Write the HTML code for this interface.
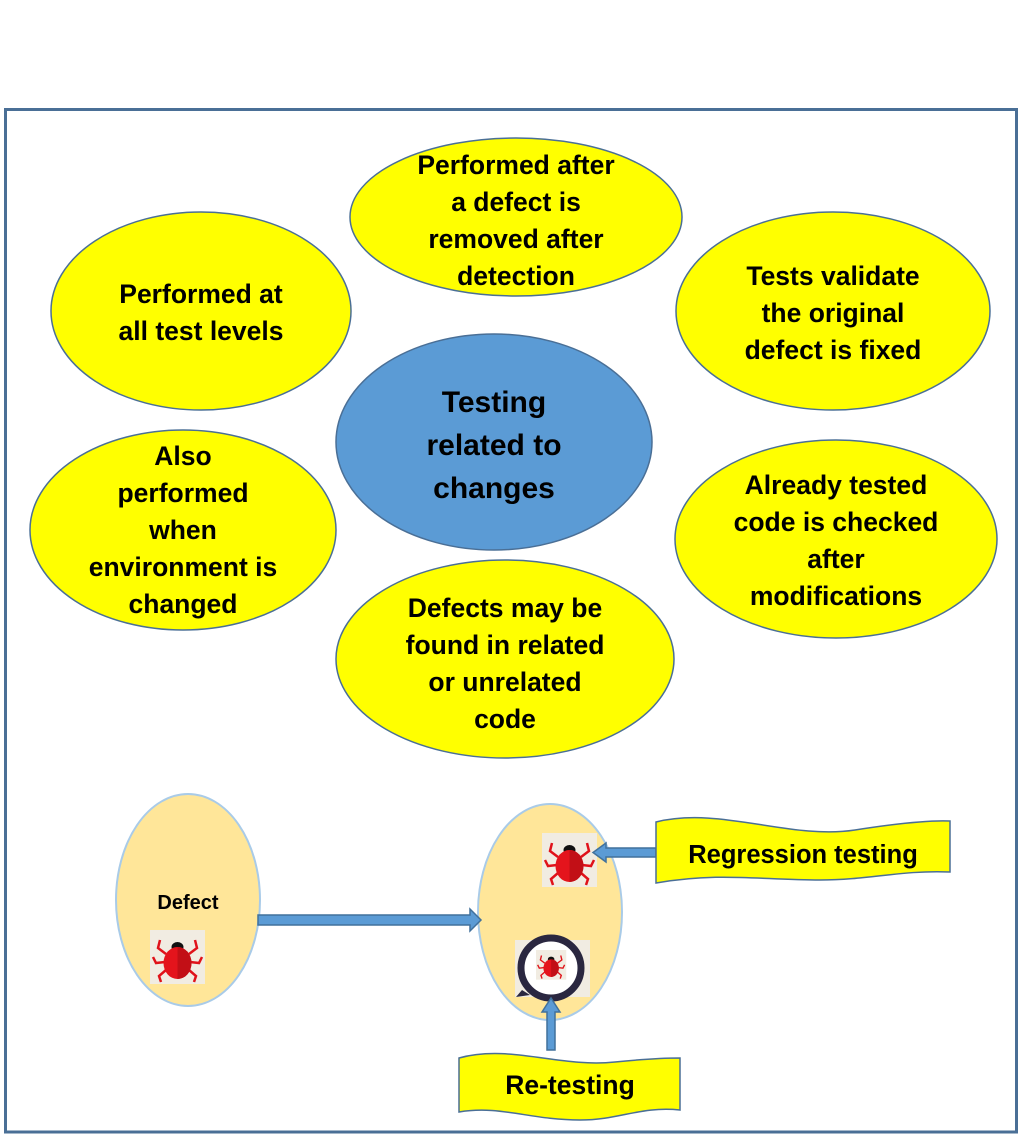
<!DOCTYPE html>
<html><head><meta charset="utf-8"><style>
html,body{margin:0;padding:0;background:#fff;}
svg{display:block;}
text{font-family:"Liberation Sans",sans-serif;font-weight:bold;fill:#000;text-anchor:middle;}
</style></head><body>
<svg width="1025" height="1139" viewBox="0 0 1025 1139" xmlns="http://www.w3.org/2000/svg">
<defs>
<g id="bug">
<rect x="0" y="0" width="55" height="54" fill="#f1ece2"/>
<g stroke="#e0121a" stroke-width="2.5" fill="none">
<path d="M16 24 L8 18 L10 10 M15 32 L6 33 L3 27 M16 40 L9 46 L11 52 M39 24 L47 18 L45 10 M40 32 L49 33 L52 27 M39 40 L46 46 L44 52"/>
</g>
<ellipse cx="27.5" cy="17" rx="6" ry="5" fill="#111"/>
<ellipse cx="27.5" cy="33" rx="14" ry="16" fill="#e4141c"/>
<path d="M27.5 17 A14 16 0 0 1 27.5 49 Z" fill="#c20f16"/>
</g>
</defs>
<rect x="5.5" y="109.5" width="1011" height="1022.5" fill="#fff" stroke="#4a6f96" stroke-width="3"/>

<g stroke="#4a6f96" stroke-width="1.5" fill="#ffff00">
<ellipse cx="516" cy="217" rx="166" ry="79"/>
<ellipse cx="201" cy="311" rx="150" ry="99"/>
<ellipse cx="833" cy="311" rx="157" ry="99"/>
<ellipse cx="183" cy="530" rx="153" ry="100"/>
<ellipse cx="836" cy="539" rx="161" ry="99"/>
<ellipse cx="505" cy="659" rx="169" ry="99"/>
<ellipse cx="494" cy="442" rx="158" ry="108" fill="#5b9bd5"/>
</g>

<g font-size="26.5">
<text x="516" y="174">Performed after</text>
<text x="516" y="211">a defect is</text>
<text x="516" y="248">removed after</text>
<text x="516" y="285">detection</text>
<text x="201" y="303">Performed at</text>
<text x="201" y="340">all test levels</text>
<text x="833" y="285">Tests validate</text>
<text x="833" y="322">the original</text>
<text x="833" y="359">defect is fixed</text>
<text x="183" y="465">Also</text>
<text x="183" y="502">performed</text>
<text x="183" y="539">when</text>
<text x="183" y="576">environment is</text>
<text x="183" y="613">changed</text>
<text x="836" y="494">Already tested</text>
<text x="836" y="531">code is checked</text>
<text x="836" y="568">after</text>
<text x="836" y="605">modifications</text>
<text x="505" y="617">Defects may be</text>
<text x="505" y="654">found in related</text>
<text x="505" y="691">or unrelated</text>
<text x="505" y="728">code</text>
</g>
<g font-size="30">
<text x="494" y="412">Testing</text>
<text x="494" y="455">related to</text>
<text x="494" y="498">changes</text>
</g>

<g fill="#ffe699" stroke="#a9cbe8" stroke-width="2">
<ellipse cx="188" cy="900" rx="72" ry="106"/>
<ellipse cx="550" cy="912" rx="72" ry="108"/>
</g>
<text x="188" y="909" font-size="20">Defect</text>
<use href="#bug" x="150" y="930"/>
<use href="#bug" x="542" y="833"/>
<rect x="515" y="940" width="75" height="57" fill="#f1ece2"/>
<circle cx="551" cy="968" r="30" fill="#fff" stroke="#2a2740" stroke-width="7"/>
<path d="M522 990 L516 997 L530 995" fill="#2a2740"/>
<use href="#bug" transform="translate(536 950) scale(0.55)"/>

<g fill="#5b9bd5" stroke="#41719c" stroke-width="1.5">
<path d="M258 915 L470 915 L470 909 L481 920 L470 931 L470 925 L258 925 Z"/>
<path d="M656 848 L606 848 L606 843 L593 852.5 L606 862 L606 857 L656 857 Z"/>
<path d="M547 1050 L547 1012 L542 1012 L551 998 L560 1012 L555 1012 L555 1050 Z"/>
</g>

<g fill="#ffff00" stroke="#4a6f96" stroke-width="1.5">
<path d="M656 822 C720 806 790 840 855 830 C900 823 930 820 950 821 L950 872 C900 870 870 880 820 880 C760 880 720 872 656 883 Z"/>
<path d="M459 1058 C510 1044 560 1068 615 1062 C645 1059 665 1058 680 1058 L680 1110 C640 1106 620 1120 580 1120 C530 1120 500 1105 459 1112 Z"/>
</g>
<text x="803" y="863" font-size="25.5">Regression testing</text>
<text x="570" y="1094" font-size="26.5">Re-testing</text>
</svg>
</body></html>
